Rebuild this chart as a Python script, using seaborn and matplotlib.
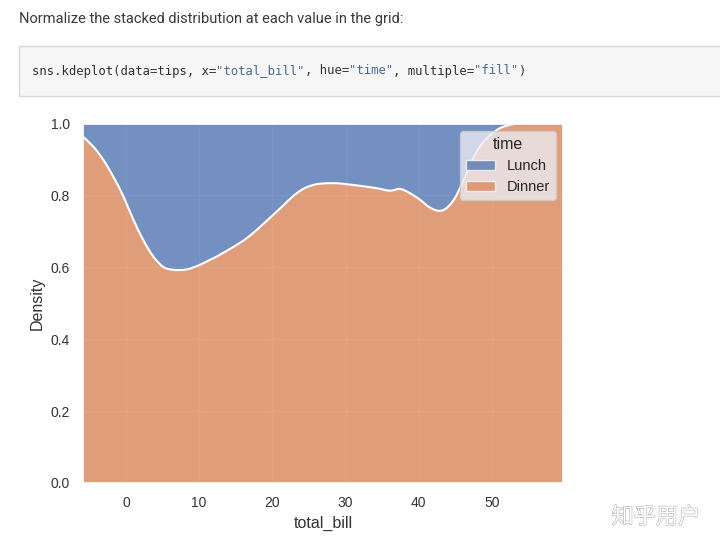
import numpy as np
import matplotlib
matplotlib.use("Agg")
import matplotlib.pyplot as plt
import matplotlib.patheffects as pe
from matplotlib.patches import Patch, PathPatch
from matplotlib.path import Path
import seaborn as sns

# total_bill grid and share of density that belongs to Dinner
bill = [-5.87, -4.47, -3.10, -1.73, -0.37, 1.00, 2.36, 3.73, 5.10, 6.46,
        8.29, 10.11, 11.48, 12.84, 16.49, 20.12, 23.32, 25.59, 28.32, 31.05,
        34.25, 36.07, 37.43, 38.80, 40.16, 41.53, 42.90, 44.03, 45.17, 46.54,
        47.91, 49.28, 51.09, 52.91, 53.80, 59.70]
dinner_share = [0.963, 0.936, 0.899, 0.852, 0.798, 0.733, 0.676, 0.630, 0.601, 0.593,
                0.594, 0.607, 0.621, 0.635, 0.681, 0.746, 0.806, 0.829, 0.834, 0.829,
                0.820, 0.813, 0.818, 0.806, 0.788, 0.766, 0.757, 0.769, 0.801, 0.862,
                0.922, 0.959, 0.987, 0.998, 1.000, 1.000]
hue_levels = ["Lunch", "Dinner"]


def smooth_path(xs, ys):
    # catmull-rom through the read points, drawn as cubic bezier segments
    p = np.column_stack([xs, ys])
    verts = [p[0]]
    codes = [Path.MOVETO]
    n = len(p)
    for i in range(n - 1):
        p0 = p[max(i - 1, 0)]
        p1 = p[i]
        p2 = p[i + 1]
        p3 = p[min(i + 2, n - 1)]
        c1 = p1 + (p2 - p0) / 6
        c2 = p2 - (p3 - p1) / 6
        verts += [c1, c2, p2]
        codes += [Path.CURVE4] * 3
    return verts, codes


sns.set_theme(style="darkgrid")
plt.rcParams['font.family'] = ['Liberation Sans', 'DejaVu Sans']
pal = sns.color_palette("deep")

fig = plt.figure(figsize=(7.2, 5.43), dpi=100)
fig.patch.set_facecolor("white")
renderer = fig.canvas.get_renderer()

# page text above the chart
fig.text(19 / 720, 1 - 19 / 543, "Normalize the stacked distribution at each value in the grid:",
         family=["Roboto", "DejaVu Sans"], fontsize=10.5, color="#3a3a3a", va="center")

box = plt.Rectangle((19 / 720, 1 - 96 / 543), 0.99, 50 / 543, transform=fig.transFigure,
                    facecolor="#f6f6f6", edgecolor="#d8d8d8", lw=1)
fig.patches.append(box)

code_parts = [("sns.kdeplot(data=tips, x=", "#333333"), ('"total_bill"', "#4a6c99"),
              (", hue=", "#333333"), ('"time"', "#4a6c99"),
              (", multiple=", "#333333"), ('"fill"', "#4a6c99"), (")", "#333333")]
xpix = 32
for txt, col in code_parts:
    t = fig.text(xpix / 720, 1 - 71 / 543, txt, family="DejaVu Sans Mono",
                 fontsize=8.85, color=col, va="center")
    xpix += t.get_window_extent(renderer).width

# the chart
ax = fig.add_axes([83 / 720, 1 - 483 / 543, 480 / 720, 359.5 / 543])
verts, codes = smooth_path(bill, dinner_share)
x0, x1 = bill[0], bill[-1]

dinner_verts = [(x0, 0)] + [tuple(v) for v in verts] + [(x1, 0), (x0, 0)]
dinner_codes = [Path.MOVETO, Path.LINETO] + codes[1:] + [Path.LINETO, Path.CLOSEPOLY]
ax.add_patch(PathPatch(Path(dinner_verts, dinner_codes), facecolor=pal[1], alpha=0.75, lw=0))

lunch_verts = [(x0, 1)] + [tuple(v) for v in verts] + [(x1, 1), (x0, 1)]
ax.add_patch(PathPatch(Path(lunch_verts, dinner_codes), facecolor=pal[0], alpha=0.75, lw=0))

ax.add_patch(PathPatch(Path(verts, codes), facecolor="none", edgecolor="white", lw=1.5))
ax.axhline(1, color=pal[0], alpha=0.4, lw=1)

ax.set_xlim(-5.87, 59.7)
ax.set_ylim(0, 1)
ax.set_xticks([0, 10, 20, 30, 40, 50])
ax.set_yticks([0, 0.2, 0.4, 0.6, 0.8, 1.0])
ax.set_yticklabels(["0.0", "0.2", "0.4", "0.6", "0.8", "1.0"])
ax.tick_params(labelsize=10, colors="#333333")
ax.set_xlabel("total_bill", fontsize=11.5, color="#333333")
ax.set_ylabel("Density", fontsize=11.5, color="#333333")

handles = [Patch(facecolor=pal[0], alpha=0.75, edgecolor="white"),
           Patch(facecolor=pal[1], alpha=0.75, edgecolor="white")]
ax.legend(handles, hue_levels, title="time", loc="upper right", fontsize=10.5,
          title_fontsize=11.5)

# watermark
fig.text(656 / 720, 1 - 517 / 543, "知乎用户", family=["Noto Sans CJK SC", "DejaVu Sans"],
         fontsize=16, color="white", ha="center", va="center",
         path_effects=[pe.withStroke(linewidth=0.8, foreground="#b0b0b0")])

fig.savefig("out.png", dpi=100, facecolor="white")
